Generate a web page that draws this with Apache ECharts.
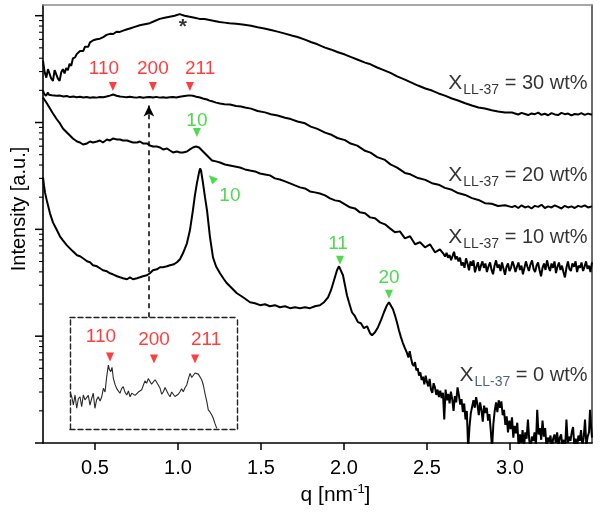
<!DOCTYPE html>
<html><head><meta charset="utf-8">
<script src="https://cdn.jsdelivr.net/npm/echarts@6/dist/echarts.min.js"></script>
<style>html,body{margin:0;padding:0;background:#fff}#c{width:600px;height:515px}</style>
</head><body><div id="c"></div>
<script>
// ---- data: [q (nm^-1), log10 intensity (a.u.)] ----
const curve30 = [[0.187,3.58],[0.197,3.47],[0.207,3.42],[0.217,3.50],[0.227,3.51],[0.237,3.41],[0.247,3.39],[0.257,3.49],[0.267,3.50],[0.277,3.41],[0.287,3.39],[0.297,3.47],[0.307,3.50],[0.317,3.46],[0.327,3.51],[0.337,3.49],[0.347,3.55],[0.357,3.53],[0.367,3.60],[0.38,3.61],[0.39,3.64],[0.40,3.63],[0.41,3.67],[0.42,3.68],[0.43,3.67],[0.44,3.71],[0.45,3.72],[0.46,3.71],[0.47,3.75],[0.48,3.74],[0.49,3.77],[0.50,3.76],[0.51,3.78],[0.52,3.79],[0.53,3.785],[0.55,3.80],[0.57,3.82],[0.59,3.83],[0.61,3.828],[0.63,3.85],[0.65,3.848],[0.67,3.86],[0.69,3.87],[0.71,3.88],[0.74,3.895],[0.77,3.91],[0.80,3.92],[0.83,3.93],[0.86,3.95],[0.89,3.97],[0.92,3.98],[0.95,3.99],[0.98,4.00],[1.01,4.015],[1.04,4.00],[1.07,3.99],[1.10,3.98],[1.13,3.97],[1.16,3.968],[1.19,3.96],[1.22,3.95],[1.25,3.94],[1.28,3.935],[1.31,3.93],[1.35,3.925],[1.40,3.915],[1.44,3.905],[1.48,3.892],[1.52,3.880],[1.56,3.866],[1.60,3.851],[1.645,3.832],[1.69,3.812],[1.72,3.800],[1.765,3.776],[1.80,3.754],[1.84,3.732],[1.886,3.701],[1.92,3.684],[1.96,3.660],[2.006,3.636],[2.04,3.614],[2.08,3.590],[2.127,3.561],[2.16,3.545],[2.20,3.515],[2.247,3.486],[2.28,3.465],[2.32,3.432],[2.367,3.402],[2.40,3.378],[2.446,3.346],[2.49,3.318],[2.53,3.299],[2.57,3.272],[2.608,3.252],[2.65,3.225],[2.687,3.206],[2.73,3.180],[2.771,3.159],[2.81,3.140],[2.849,3.131],[2.89,3.115],[2.928,3.103],[2.97,3.094],[3.012,3.093],[3.03,3.085],[3.05,3.075],[3.07,3.090],[3.09,3.080],[3.11,3.070],[3.13,3.085],[3.15,3.078],[3.17,3.092],[3.19,3.072],[3.21,3.082],[3.23,3.068],[3.25,3.088],[3.27,3.076],[3.29,3.070],[3.31,3.090],[3.33,3.078],[3.35,3.084],[3.37,3.066],[3.39,3.080],[3.41,3.074],[3.43,3.088],[3.45,3.072],[3.47,3.083],[3.494,3.072]];

const curve20 = [[0.187,3.30],[0.193,3.27],[0.199,3.28],[0.205,3.25],[0.211,3.26],[0.217,3.28],[0.223,3.26],[0.229,3.27],[0.24,3.255],[0.25,3.265],[0.27,3.25],[0.29,3.252],[0.31,3.243],[0.33,3.248],[0.35,3.238],[0.37,3.243],[0.39,3.236],[0.41,3.241],[0.43,3.234],[0.45,3.238],[0.47,3.232],[0.49,3.236],[0.51,3.233],[0.53,3.238],[0.55,3.236],[0.57,3.243],[0.59,3.252],[0.61,3.262],[0.63,3.25],[0.65,3.243],[0.67,3.24],[0.69,3.236],[0.71,3.241],[0.73,3.236],[0.75,3.233],[0.77,3.238],[0.79,3.232],[0.81,3.236],[0.83,3.238],[0.85,3.234],[0.87,3.24],[0.89,3.233],[0.91,3.237],[0.93,3.231],[0.95,3.237],[0.97,3.239],[0.99,3.235],[1.01,3.241],[1.03,3.246],[1.05,3.251],[1.07,3.254],[1.09,3.25],[1.11,3.242],[1.133,3.234],[1.15,3.225],[1.175,3.215],[1.19,3.205],[1.211,3.196],[1.23,3.186],[1.253,3.178],[1.28,3.172],[1.313,3.168],[1.35,3.155],[1.38,3.15],[1.404,3.140],[1.44,3.13],[1.48,3.108],[1.524,3.095],[1.56,3.078],[1.60,3.066],[1.645,3.045],[1.68,3.032],[1.72,3.010],[1.765,2.993],[1.80,2.962],[1.84,2.940],[1.886,2.905],[1.92,2.888],[1.96,2.855],[2.006,2.835],[2.04,2.803],[2.08,2.784],[2.127,2.735],[2.16,2.718],[2.20,2.676],[2.247,2.650],[2.28,2.608],[2.32,2.578],[2.367,2.528],[2.40,2.515],[2.446,2.480],[2.49,2.463],[2.53,2.432],[2.57,2.418],[2.608,2.388],[2.65,2.370],[2.687,2.340],[2.73,2.322],[2.771,2.292],[2.81,2.275],[2.849,2.245],[2.89,2.240],[2.928,2.218],[2.97,2.225],[3.012,2.208],[3.03,2.22],[3.05,2.20],[3.07,2.225],[3.09,2.205],[3.11,2.215],[3.13,2.195],[3.15,2.22],[3.17,2.21],[3.19,2.23],[3.21,2.20],[3.23,2.215],[3.25,2.205],[3.27,2.225],[3.29,2.21],[3.31,2.195],[3.33,2.22],[3.35,2.205],[3.37,2.215],[3.39,2.20],[3.41,2.22],[3.43,2.21],[3.45,2.225],[3.47,2.205],[3.494,2.215]];

const curve10 = [[0.187,3.234],[0.199,3.206],[0.211,3.178],[0.229,3.131],[0.247,3.084],[0.271,3.028],[0.289,2.991],[0.307,2.944],[0.331,2.907],[0.349,2.879],[0.367,2.850],[0.392,2.822],[0.410,2.813],[0.428,2.794],[0.452,2.804],[0.470,2.822],[0.488,2.813],[0.512,2.822],[0.530,2.832],[0.548,2.813],[0.572,2.841],[0.590,2.832],[0.608,2.850],[0.633,2.841],[0.651,2.841],[0.669,2.832],[0.693,2.832],[0.711,2.822],[0.729,2.813],[0.753,2.813],[0.771,2.822],[0.789,2.804],[0.813,2.804],[0.831,2.785],[0.849,2.776],[0.873,2.776],[0.892,2.766],[0.910,2.748],[0.934,2.757],[0.952,2.738],[0.970,2.720],[0.994,2.729],[1.012,2.720],[1.030,2.720],[1.054,2.729],[1.072,2.748],[1.090,2.766],[1.108,2.776],[1.127,2.766],[1.139,2.757],[1.151,2.729],[1.169,2.701],[1.187,2.673],[1.205,2.645],[1.229,2.636],[1.253,2.626],[1.283,2.607],[1.313,2.598],[1.343,2.589],[1.373,2.579],[1.404,2.561],[1.434,2.551],[1.464,2.542],[1.494,2.523],[1.524,2.514],[1.554,2.505],[1.584,2.477],[1.614,2.467],[1.645,2.449],[1.675,2.430],[1.705,2.411],[1.735,2.393],[1.765,2.383],[1.795,2.355],[1.825,2.346],[1.855,2.336],[1.886,2.318],[1.916,2.290],[1.946,2.271],[1.976,2.262],[2.006,2.234],[2.036,2.206],[2.066,2.196],[2.096,2.159],[2.127,2.150],[2.157,2.112],[2.187,2.103],[2.217,2.065],[2.247,2.047],[2.277,2.009],[2.307,1.972],[2.337,1.981],[2.367,1.916],[2.398,1.935],[2.428,1.860],[2.458,1.879],[2.488,1.832],[2.518,1.860],[2.548,1.785],[2.578,1.813],[2.600,1.770],[2.609,1.745],[2.618,1.780],[2.627,1.735],[2.636,1.760],[2.645,1.712],[2.654,1.750],[2.663,1.790],[2.672,1.720],[2.681,1.745],[2.690,1.700],[2.699,1.735],[2.708,1.660],[2.717,1.690],[2.726,1.640],[2.735,1.729],[2.744,1.680],[2.753,1.617],[2.762,1.700],[2.771,1.660],[2.780,1.710],[2.789,1.598],[2.798,1.650],[2.807,1.692],[2.816,1.610],[2.825,1.660],[2.834,1.700],[2.843,1.640],[2.852,1.680],[2.861,1.600],[2.870,1.650],[2.880,1.690],[2.889,1.620],[2.898,1.580],[2.907,1.660],[2.916,1.710],[2.925,1.640],[2.934,1.670],[2.943,1.610],[2.952,1.690],[2.961,1.630],[2.970,1.575],[2.979,1.650],[2.988,1.680],[2.997,1.610],[3.006,1.640],[3.015,1.700],[3.024,1.660],[3.033,1.600],[3.042,1.650],[3.051,1.690],[3.060,1.620],[3.069,1.660],[3.078,1.580],[3.087,1.640],[3.096,1.700],[3.105,1.650],[3.114,1.610],[3.123,1.670],[3.133,1.710],[3.142,1.630],[3.151,1.600],[3.160,1.660],[3.169,1.690],[3.178,1.620],[3.187,1.560],[3.196,1.640],[3.205,1.680],[3.214,1.620],[3.223,1.710],[3.232,1.650],[3.241,1.610],[3.250,1.680],[3.259,1.640],[3.268,1.700],[3.277,1.590],[3.286,1.650],[3.295,1.690],[3.304,1.620],[3.313,1.660],[3.322,1.600],[3.331,1.550],[3.340,1.640],[3.349,1.700],[3.358,1.630],[3.367,1.610],[3.376,1.680],[3.386,1.650],[3.395,1.700],[3.404,1.600],[3.413,1.660],[3.422,1.640],[3.431,1.690],[3.440,1.610],[3.449,1.650],[3.458,1.700],[3.467,1.630],[3.476,1.660],[3.485,1.600],[3.494,1.690]];

const curve0 = [[0.187,2.486],[0.193,2.411],[0.199,2.346],[0.211,2.262],[0.229,2.150],[0.247,2.065],[0.271,1.991],[0.289,1.935],[0.307,1.897],[0.331,1.850],[0.349,1.822],[0.367,1.794],[0.392,1.757],[0.410,1.748],[0.428,1.729],[0.452,1.701],[0.470,1.692],[0.488,1.664],[0.512,1.654],[0.530,1.636],[0.548,1.617],[0.572,1.607],[0.590,1.589],[0.608,1.579],[0.633,1.561],[0.651,1.551],[0.669,1.542],[0.693,1.533],[0.711,1.551],[0.729,1.533],[0.753,1.542],[0.771,1.551],[0.789,1.561],[0.813,1.570],[0.831,1.589],[0.849,1.617],[0.873,1.626],[0.892,1.645],[0.910,1.645],[0.934,1.654],[0.952,1.664],[0.976,1.673],[0.994,1.692],[1.012,1.720],[1.030,1.776],[1.042,1.822],[1.054,1.869],[1.072,1.991],[1.090,2.178],[1.102,2.318],[1.114,2.430],[1.127,2.533],[1.133,2.570],[1.139,2.551],[1.151,2.430],[1.163,2.299],[1.175,2.178],[1.193,1.925],[1.211,1.738],[1.229,1.654],[1.253,1.589],[1.277,1.533],[1.295,1.495],[1.325,1.449],[1.355,1.402],[1.392,1.364],[1.434,1.318],[1.464,1.308],[1.494,1.290],[1.524,1.299],[1.554,1.280],[1.584,1.290],[1.614,1.271],[1.645,1.280],[1.675,1.262],[1.705,1.271],[1.735,1.262],[1.765,1.271],[1.795,1.262],[1.825,1.280],[1.855,1.290],[1.880,1.318],[1.904,1.364],[1.922,1.430],[1.940,1.523],[1.958,1.617],[1.970,1.654],[1.982,1.636],[1.994,1.570],[2.006,1.477],[2.018,1.383],[2.030,1.318],[2.048,1.224],[2.066,1.187],[2.084,1.131],[2.102,1.121],[2.120,1.075],[2.139,1.093],[2.157,1.028],[2.169,1.009],[2.187,1.037],[2.205,1.084],[2.223,1.150],[2.241,1.224],[2.259,1.290],[2.271,1.318],[2.283,1.308],[2.295,1.252],[2.307,1.196],[2.319,1.131],[2.331,1.056],[2.343,0.991],[2.355,0.935],[2.367,0.888],[2.380,0.841],[2.388,0.80],[2.396,0.86],[2.404,0.794],[2.412,0.74],[2.420,0.72],[2.428,0.757],[2.436,0.68],[2.444,0.70],[2.452,0.63],[2.460,0.66],[2.468,0.59],[2.476,0.62],[2.484,0.55],[2.492,0.63],[2.500,0.57],[2.508,0.53],[2.516,0.60],[2.524,0.50],[2.532,0.47],[2.540,0.56],[2.548,0.52],[2.556,0.45],[2.564,0.50],[2.572,0.43],[2.580,0.49],[2.588,0.42],[2.596,0.47],[2.604,0.22],[2.612,0.50],[2.620,0.40],[2.628,0.46],[2.636,0.37],[2.644,0.48],[2.652,0.41],[2.660,0.30],[2.668,0.44],[2.676,0.38],[2.684,0.52],[2.692,0.45],[2.700,0.36],[2.708,0.41],[2.716,0.29],[2.724,0.37],[2.732,0.22],[2.740,0.30],[2.748,-0.05],[2.756,0.15],[2.764,0.28],[2.772,0.34],[2.780,0.40],[2.788,0.33],[2.796,0.43],[2.804,0.36],[2.812,0.26],[2.820,0.38],[2.828,0.31],[2.836,0.20],[2.844,0.35],[2.852,0.28],[2.860,0.33],[2.868,0.21],[2.876,0.27],[2.884,0.12],[2.892,-0.05],[2.900,0.18],[2.908,0.30],[2.916,0.38],[2.924,0.29],[2.932,0.40],[2.940,0.33],[2.948,0.39],[2.956,0.26],[2.964,0.31],[2.972,0.17],[2.980,0.25],[2.988,0.10],[2.996,0.21],[3.004,0.13],[3.012,0.24],[3.020,0.05],[3.028,0.16],[3.036,0.09],[3.044,0.19],[3.052,-0.04],[3.060,0.08],[3.068,0.00],[3.076,0.12],[3.084,-0.05],[3.092,0.10],[3.100,0.04],[3.108,0.22],[3.116,0.03],[3.124,-0.05],[3.132,0.06],[3.140,0.02],[3.148,0.10],[3.156,-0.03],[3.164,0.31],[3.172,0.08],[3.180,0.14],[3.188,0.03],[3.196,0.21],[3.204,0.06],[3.212,0.14],[3.220,-0.04],[3.228,0.05],[3.236,0.01],[3.244,0.07],[3.252,-0.05],[3.260,0.04],[3.268,0.08],[3.276,0.00],[3.284,0.10],[3.292,-0.03],[3.300,0.05],[3.308,0.08],[3.316,-0.04],[3.324,0.03],[3.332,-0.05],[3.340,0.22],[3.348,0.00],[3.356,0.06],[3.364,0.02],[3.372,0.10],[3.380,0.15],[3.388,-0.04],[3.396,0.04],[3.404,-0.05],[3.412,0.07],[3.420,0.02],[3.428,0.12],[3.436,-0.03],[3.444,0.05],[3.452,0.22],[3.460,-0.02],[3.468,0.06],[3.476,0.10],[3.482,0.31],[3.488,0.17],[3.494,0.05]];

// inset: [q, relative intensity 0..1]
const insetCurve = [[0.393,0.33],[0.402,0.288],[0.411,0.214],[0.420,0.304],[0.429,0.185],[0.438,0.27],[0.447,0.288],[0.456,0.199],[0.465,0.304],[0.474,0.26],[0.483,0.244],[0.492,0.30],[0.501,0.214],[0.510,0.27],[0.519,0.319],[0.528,0.185],[0.537,0.26],[0.546,0.288],[0.556,0.25],[0.565,0.288],[0.574,0.363],[0.583,0.33],[0.592,0.467],[0.601,0.571],[0.607,0.53],[0.614,0.512],[0.621,0.55],[0.628,0.453],[0.637,0.40],[0.646,0.363],[0.655,0.34],[0.664,0.319],[0.673,0.36],[0.682,0.378],[0.691,0.33],[0.701,0.304],[0.710,0.34],[0.719,0.288],[0.728,0.32],[0.737,0.333],[0.746,0.30],[0.755,0.288],[0.764,0.33],[0.773,0.319],[0.782,0.35],[0.791,0.363],[0.800,0.43],[0.809,0.408],[0.818,0.45],[0.827,0.438],[0.836,0.40],[0.845,0.408],[0.855,0.44],[0.864,0.453],[0.873,0.39],[0.882,0.363],[0.891,0.31],[0.900,0.333],[0.909,0.37],[0.918,0.363],[0.927,0.31],[0.936,0.288],[0.945,0.33],[0.954,0.319],[0.963,0.29],[0.973,0.274],[0.981,0.31],[0.990,0.333],[0.999,0.36],[1.008,0.333],[1.018,0.37],[1.027,0.393],[1.036,0.45],[1.045,0.497],[1.054,0.46],[1.063,0.467],[1.072,0.50],[1.081,0.512],[1.090,0.49],[1.099,0.482],[1.108,0.44],[1.117,0.393],[1.127,0.31],[1.136,0.244],[1.144,0.170],[1.154,0.15],[1.163,0.125],[1.171,0.096],[1.180,0.05],[1.190,0.006]];

const xTicks = [0.5, 1.0, 1.5, 2.0, 2.5, 3.0];
const yDecades = [1, 10, 100, 1000, 10000];

// annotations (q, log10 I)
const redLabels = ['110', '200', '211'];
const redMarkQ = [0.608, 0.849, 1.072];
const redTextQ = [0.554, 0.849, 1.133];
const greenLabels = ['10', '10', '11', '20'];
const greenMarks = [[1.114, 2.907], [1.205, 2.477], [1.976, 1.710], [2.271, 1.393]];
const greenMarkRot = [180, 45, 180, 180];
const greenText = [[1.114, 3.019], [1.313, 2.318], [1.964, 1.869], [2.271, 1.551]];
const curveNames = ['30', '20', '10', '0'];
const curveNameL = [3.364, 2.505, 1.925, 0.636];
// inset annotations (q, relative)
const insetMarkQ = [0.610, 0.849, 1.072];
const insetMarkV = [0.643, 0.625, 0.625];
const insetTextQ = [0.561, 0.849, 1.132];
const insetTextV = [0.821, 0.795, 0.795];

// ---- build ----
const Q_MIN = 0.187, Q_MAX = 3.494, I_MIN = 1, I_MAX = Math.pow(10, 4.1);
const P = l => Math.pow(10, l);
const toI = arr => arr.map(p => [p[0], P(p[1])]);
const FONT = '"Liberation Sans", Arial, Helvetica, sans-serif';
const RED = '#ff0d0d', GREEN = '#1fd21f';

const yTicks = [];
yDecades.forEach(d => {
  yTicks.push([Q_MIN, d, 8]);
  for (let n = 2; n <= 9; n++) { const v = n * d; if (v <= I_MAX) yTicks.push([Q_MIN, v, 4]); }
});

const lineSeries = (data) => ({
  type: 'line', data: toI(data), xAxisIndex: 0, yAxisIndex: 0, showSymbol: false, symbol: 'none',
  lineStyle: { color: '#000', width: 2 }, clip: true, silent: true, z: 3
});

const textPoint = (q, v, txt, color, size) => ({
  value: [q, v],
  label: { show: true, position: 'inside', formatter: txt, color: color, fontSize: size, fontFamily: FONT }
});

const chart = echarts.init(document.getElementById('c'), null, { renderer: 'canvas' });

const hidden = { axisTick: { show: false }, axisLabel: { show: false }, splitLine: { show: false } };
const dashed = { show: true, onZero: false, lineStyle: { color: '#222', width: 1.4, type: [5, 3] } };

const series20 = lineSeries(curve20);
series20.markLine = {
  silent: true, symbol: ['none', 'arrow'], symbolSize: [8, 11], animation: false,
  label: { show: false },
  lineStyle: { color: '#000', width: 1.5, type: [5, 4] },
  data: [[{ coord: [0.825, P(1.178)] }, { coord: [0.825, P(3.16)] }]]
};

const option = {
  animation: false,
  backgroundColor: '#fff',
  grid: [
    { left: 43, top: 5, width: 549, height: 438 },
    { left: 70, top: 317, width: 167, height: 112 }
  ],
  xAxis: [
    { type: 'value', gridIndex: 0, min: Q_MIN, max: Q_MAX, position: 'bottom',
      axisLine: { onZero: false, lineStyle: { color: '#000', width: 1.6 } },
      axisTick: { length: 7, lineStyle: { color: '#000', width: 1.5 }, customValues: xTicks },
      axisLabel: { customValues: xTicks, formatter: v => Number(v).toFixed(1), fontSize: 20, color: '#000', margin: 15, fontFamily: FONT },
      splitLine: { show: false },
      name: 'q [nm{sup|-1}]', nameLocation: 'middle', nameGap: 31,
      nameTextStyle: { fontSize: 21, color: '#000', fontFamily: FONT, padding: [0, 0, 0, 36],
        rich: { sup: { fontSize: 13, color: '#000', fontFamily: FONT, padding: [0, 0, 11, 0] } } } },
    Object.assign({ type: 'value', gridIndex: 0, min: Q_MIN, max: Q_MAX, position: 'top',
      axisLine: { show: true, onZero: false, lineStyle: { color: '#8a8a8a', width: 1.5 } } }, hidden),
    Object.assign({ type: 'value', gridIndex: 1, min: 0.3926, max: 1.300, position: 'bottom', axisLine: dashed }, hidden),
    Object.assign({ type: 'value', gridIndex: 1, min: 0.3926, max: 1.300, position: 'top', axisLine: dashed }, hidden)
  ],
  yAxis: [
    { type: 'log', logBase: 10, gridIndex: 0, min: I_MIN, max: I_MAX, position: 'left',
      axisLine: { show: true, onZero: false, lineStyle: { color: '#000', width: 1.6 } },
      axisTick: { show: false }, axisLabel: { show: false }, splitLine: { show: false },
      name: 'Intensity [a.u.]', nameLocation: 'middle', nameGap: 14, nameRotate: 90,
      nameTextStyle: { fontSize: 20, color: '#000', fontFamily: FONT, padding: [0, 0, 0, 30] } },
    Object.assign({ type: 'log', logBase: 10, gridIndex: 0, min: I_MIN, max: I_MAX, position: 'right',
      axisLine: { show: true, onZero: false, lineStyle: { color: '#3a3a3a', width: 1.5 } } }, hidden),
    Object.assign({ type: 'value', gridIndex: 1, min: 0, max: 1, position: 'left', axisLine: dashed }, hidden),
    Object.assign({ type: 'value', gridIndex: 1, min: 0, max: 1, position: 'right', axisLine: dashed }, hidden)
  ],
  series: [
    lineSeries(curve30),
    series20,
    lineSeries(curve10),
    lineSeries(curve0),
    // inset curve
    { type: 'line', xAxisIndex: 2, yAxisIndex: 2, data: insetCurve, showSymbol: false, symbol: 'none',
      lineStyle: { color: '#2a2a2a', width: 1.1 }, silent: true, clip: true },
    // y-axis log ticks (major + minor)
    { type: 'custom', xAxisIndex: 0, yAxisIndex: 0, silent: true, clip: false, z: 5, data: yTicks,
      renderItem: (params, api) => {
        const p = api.coord([api.value(0), api.value(1)]);
        const len = api.value(2);
        return { type: 'line', shape: { x1: p[0] - len, y1: p[1], x2: p[0], y2: p[1] },
          style: { stroke: '#000', lineWidth: len > 5 ? 1.5 : 1.1 } };
      } },
    // red markers (main)
    { type: 'scatter', xAxisIndex: 0, yAxisIndex: 0, silent: true, symbol: 'triangle', symbolRotate: 180,
      symbolSize: [8, 9], itemStyle: { color: RED }, z: 6,
      data: redMarkQ.map(q => [q, P(3.336)]) },
    // red labels (main)
    { type: 'scatter', xAxisIndex: 0, yAxisIndex: 0, silent: true, symbolSize: 1, itemStyle: { color: 'rgba(0,0,0,0)' }, z: 6,
      data: redLabels.map((t, i) => textPoint(redTextQ[i], P(3.505), t, RED, 19)) },
    // green markers
    { type: 'scatter', xAxisIndex: 0, yAxisIndex: 0, silent: true, symbol: 'triangle',
      symbolSize: [8, 9], itemStyle: { color: GREEN }, z: 6,
      data: greenMarks.map((m, i) => ({ value: [m[0], P(m[1])], symbolRotate: greenMarkRot[i] })) },
    // green labels
    { type: 'scatter', xAxisIndex: 0, yAxisIndex: 0, silent: true, symbolSize: 1, itemStyle: { color: 'rgba(0,0,0,0)' }, z: 6,
      data: greenLabels.map((t, i) => textPoint(greenText[i][0], P(greenText[i][1]), t, GREEN, 19)) },
    // asterisk
    { type: 'scatter', xAxisIndex: 0, yAxisIndex: 0, silent: true, symbolSize: 1, itemStyle: { color: 'rgba(0,0,0,0)' }, z: 6,
      data: [{ value: [1.030, P(3.89)], label: { show: true, position: 'inside', formatter: '*', color: '#000', fontSize: 21, fontWeight: 'bold', fontFamily: FONT } }] },
    // curve labels
    { type: 'scatter', xAxisIndex: 0, yAxisIndex: 0, silent: true, symbolSize: 1, itemStyle: { color: 'rgba(0,0,0,0)' }, z: 6,
      data: curveNames.map((n, i) => ({
        value: [3.470, P(curveNameL[i])],
        label: { show: true, position: 'left', distance: 0,
          formatter: '{x|X}{' + (n === '0' ? 'n' : 's') + '|LL-37}{t| = ' + n + ' wt%}',
          rich: {
            x: { fontSize: 21, color: '#000', fontFamily: FONT },
            s: { fontSize: 14, color: '#000', fontFamily: FONT, padding: [14, 0, 0, 1] },
            n: { fontSize: 14, color: '#1f3a6e', fontFamily: FONT, padding: [14, 0, 0, 1] },
            t: { fontSize: 20, color: '#000', fontFamily: FONT }
          } }
      })) },
    // inset red markers
    { type: 'scatter', xAxisIndex: 2, yAxisIndex: 2, silent: true, symbol: 'triangle', symbolRotate: 180,
      symbolSize: [8, 9], itemStyle: { color: RED }, z: 6,
      data: insetMarkQ.map((q, i) => [q, insetMarkV[i]]) },
    // inset red labels
    { type: 'scatter', xAxisIndex: 2, yAxisIndex: 2, silent: true, symbolSize: 1, itemStyle: { color: 'rgba(0,0,0,0)' }, z: 6,
      data: redLabels.map((t, i) => textPoint(insetTextQ[i], insetTextV[i], t, RED, 19)) }
  ]
};
chart.setOption(option);
</script></body></html>
